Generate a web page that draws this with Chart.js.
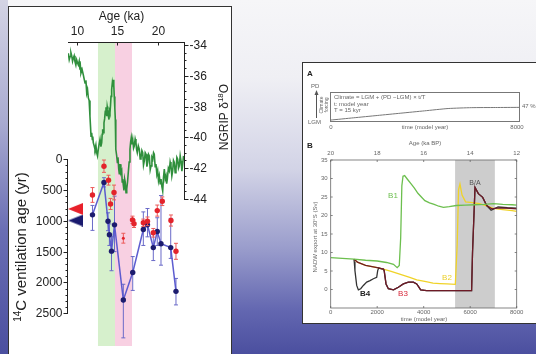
<!DOCTYPE html>
<html><head><meta charset="utf-8">
<script src="https://cdn.jsdelivr.net/npm/chart.js@4/dist/chart.umd.min.js"></script>
<style>
html,body{margin:0;padding:0;width:536px;height:354px;overflow:hidden;}
body{position:relative;background:linear-gradient(to bottom,#f6f6f8 0%,#efeff4 22%,#d2d3e6 48%,#9a9dcc 70%,#6266b0 88%,#4b4f9f 100%);}
#leftStrip{position:absolute;left:0;top:0;width:8px;height:354px;background:linear-gradient(to bottom,#d4d4e4 0%,#a8aad0 35%,#6a6eb4 65%,#4b4f9f 100%);}
#leftBox{position:absolute;left:8px;top:6px;width:224px;height:349px;background:#fff;border:1px solid #333;box-sizing:border-box;}
#rightBox{position:absolute;left:302px;top:62px;width:240px;height:262px;background:#fff;border:1px solid #333;box-sizing:border-box;}
canvas{position:absolute;left:0;top:0;width:536px;height:354px;}
</style></head>
<body>
<div id="leftStrip"></div><div id="leftBox"></div><div id="rightBox"></div>
<canvas id="cL" width="536" height="354"></canvas>
<canvas id="cA" width="536" height="354"></canvas>
<canvas id="cB" width="536" height="354"></canvas>
<script>
// ---------------- LEFT PANEL DATA ----------------
const ageTicks = [10, 15, 20];
const ventTicks = [0, 500, 1000, 1500, 2000, 2500];
const d18OTicks = [-34, -36, -38, -40, -42, -44];
const shadeGreen = [12.59, 14.69];   // ka
const shadePink = [14.69, 16.79];    // ka

const ngripAge = [8.93,9.04,9.14,9.25,9.35,9.45,9.54,9.65,9.75,9.86,9.96,10.06,10.16,10.27,10.37,10.43,10.49,10.63,10.78,10.88,10.99,11.10,11.20,11.30,11.40,11.50,11.60,11.67,11.73,11.81,11.89,11.95,12.01,12.12,12.22,12.33,12.43,12.53,12.63,12.74,12.84,12.95,13.05,13.11,13.17,13.25,13.33,13.41,13.49,13.58,13.67,13.73,13.79,13.87,13.95,14.01,14.07,14.14,14.20,14.28,14.36,14.42,14.48,14.54,14.60,14.67,14.73,14.77,14.81,14.90,14.98,15.06,15.15,15.23,15.31,15.42,15.52,15.58,15.64,15.72,15.80,15.88,15.96,16.05,16.14,16.24,16.33,16.44,16.54,16.62,16.70,16.79,16.88,16.98,17.07,17.18,17.28,17.36,17.44,17.57,17.69,17.80,17.90,18.01,18.11,18.21,18.31,18.42,18.52,18.63,18.73,18.83,18.93,19.04,19.14,19.25,19.35,19.45,19.54,19.65,19.75,19.86,19.96,20.06,20.16,20.27,20.37,20.48,20.58,20.68,20.78,20.89,20.99,21.07,21.15,21.28,21.40,21.50,21.60,21.71,21.81,21.91,22.01,22.12,22.22,22.33,22.43,22.53,22.63,22.74,22.84,22.95,23.05,23.15];
const ngripD18O = [-34.54,-34.95,-34.75,-34.50,-34.71,-35.05,-34.86,-34.70,-35.08,-35.30,-34.97,-35.15,-35.29,-35.05,-35.61,-35.45,-35.83,-35.60,-35.94,-36.20,-36.47,-36.30,-37.12,-36.90,-37.44,-37.60,-38.63,-39.30,-39.92,-39.70,-40.13,-39.95,-40.34,-40.55,-40.77,-40.50,-40.99,-41.20,-40.77,-40.40,-40.13,-40.60,-40.34,-39.80,-39.48,-39.70,-39.05,-38.80,-38.30,-38.05,-38.63,-38.00,-38.19,-38.60,-38.84,-38.30,-38.41,-37.90,-37.34,-36.90,-36.47,-36.70,-36.26,-36.60,-37.34,-38.10,-38.84,-39.80,-40.77,-41.20,-41.63,-41.30,-42.06,-42.40,-41.74,-42.30,-42.17,-42.90,-42.71,-43.10,-43.45,-42.70,-42.92,-43.60,-43.35,-42.90,-42.28,-41.60,-40.77,-40.30,-40.02,-40.45,-40.13,-40.70,-40.56,-40.10,-40.34,-40.80,-40.99,-40.55,-40.77,-41.40,-41.31,-40.85,-40.99,-41.80,-41.53,-41.00,-41.10,-41.90,-41.63,-41.10,-41.21,-42.10,-41.85,-41.30,-41.42,-41.00,-41.10,-41.90,-41.74,-42.40,-42.17,-42.80,-42.50,-43.00,-42.71,-43.20,-43.48,-42.60,-42.06,-42.70,-42.50,-43.00,-42.71,-42.00,-42.17,-41.60,-41.85,-42.50,-42.17,-41.50,-41.63,-42.30,-42.06,-41.30,-41.42,-42.00,-41.85,-41.20,-41.53,-42.20,-41.74,-41.20];

const blueAge = [11.91,13.33,13.83,14.00,14.26,14.63,15.72,16.88,18.19,18.70,19.42,19.91,20.37,21.57,22.22];
const blueVent = [903,376,1008,1226,1492,1065,2285,1839,1140,1065,1435,1173,1371,1435,2145];
const blueLo = [750,300,870,1050,1260,600,2030,1580,855,800,1210,950,590,960,1935];
const blueHi = [1155,450,1160,1400,1810,1500,2900,2130,1400,1260,1645,1400,1720,1610,2365];

const redAge = [11.91,13.33,13.89,14.14,14.57,15.72,16.85,17.04,18.19,18.70,19.42,19.91,20.53,21.60,22.22];
const redVent = [580,113,340,726,540,1282,984,1048,1032,1008,1194,834,682,995,1495];
const redErr = [120,100,80,90,120,80,60,60,60,70,70,90,70,90,130];

const pdAge = [9.815, 9.815];
const pdVent = [806, 995];

// ---------------- PANEL A DATA ----------------
const climT = [0,1000,2000,3000,4000,5000,6000,7000,8000];
const climFrac = [0.03,0.11,0.19,0.27,0.35,0.43,0.46,0.465,0.47];

// ---------------- PANEL B DATA ----------------
const bXTicks = [0,2000,4000,6000,8000];
const bYTicks = [0,5,10,15,20,25,30,35];
const bAgeTicks = [20,18,16,14,12];
const baShade = [5350, 7060];

const b1T = [0,500,1000,1500,2000,2400,2700,2860,2950,3010,3060,3110,3180,3300,3450,3600,3750,3900,4050,4250,4450,4650,4850,5100,5400,5800,6200,6600,7000,7400,7800,8000];
const b1V = [8.6,8.4,8.2,7.9,7.7,7.3,6.8,5.9,6.5,14,28,30.6,30.8,29.8,28.6,27.4,26.0,25.0,24.0,23.4,23.0,22.5,22.2,22.4,22.7,22.8,22.9,23.0,23.2,23.0,22.9,22.8];
const b2T = [1000,1150,1500,2000,2270,2600,3000,3400,3700,4100,4400,4700,5000,5360,5440,5500,5560,5650,5800,6100,6400,6700,7000,7400,7800,8000];
const b2V = [8.2,7.4,6.5,5.9,5.5,4.9,4.1,3.3,2.6,2.1,1.7,1.6,1.5,1.4,12,27,28.5,25.5,23.7,23.5,23.2,22.6,21.9,21.6,21.3,21.1];
const b3T = [1000,1150,1500,2000,2270,2300,2380,2480,2700,2910,3125,3340,3555,3700,3800,3870,4130,5000,6060,6100,6207,6350,6537,6710,6925,7140,7570,8000];
const b3V = [8.2,7.4,6.5,5.9,5.5,5.1,1.5,0.2,-0.1,0.6,1.5,2.0,2.0,1.5,0.6,-0.1,-0.3,-0.3,-0.3,10,27.6,25.9,24.9,22.7,21.8,22.0,22.0,21.8];
const b4T = [1000,1015,1043,1118,1190,1290,1405,1548,1692,1835,1978,2021,2064,2193,2270,2300,2380,2480,2700,2910,3125,3340,3555,3700,3800,3870,4130,5000,6060,6100,6207,6350,6537,6710,6900,7200,7600,8000];
const b4V = [8.2,7.4,5.1,1.1,-0.1,0.2,1.1,2.0,2.4,2.9,3.3,5.1,5.8,5.6,5.5,5.1,1.5,0.2,-0.1,0.6,1.5,2.0,2.0,1.5,0.6,-0.1,-0.3,-0.3,-0.3,10,27.6,25.9,24.9,22.7,21.4,22.3,22.1,22.0];

// ---------------- helpers ----------------
const FONT = '"Liberation Sans", Arial, sans-serif';
const pts = (xs, ys) => xs.map((v, i) => ({x: v, y: ys[i]}));
function line(ctx, x1, y1, x2, y2){ ctx.beginPath(); ctx.moveTo(x1, y1); ctx.lineTo(x2, y2); ctx.stroke(); }
const r5 = v => Math.round(v) + 0.5;
function triImg(color){
  const c = document.createElement('canvas'); c.width = 15; c.height = 12;
  const g = c.getContext('2d'); g.fillStyle = color;
  g.beginPath(); g.moveTo(0, 6); g.lineTo(15, 0); g.lineTo(15, 12); g.closePath(); g.fill();
  return c;
}
const base = {responsive:false, animation:false, events:[], plugins:{legend:{display:false}, tooltip:{enabled:false}}};

// ---------------- LEFT CHART ----------------
const leftPlugin = {
  id: 'leftDeco',
  beforeDatasetsDraw(chart){
    const {ctx, chartArea: ca, scales: {x}} = chart;
    ctx.save();
    ctx.fillStyle = '#d6f0cc';
    ctx.fillRect(x.getPixelForValue(shadeGreen[0]), ca.top, x.getPixelForValue(shadeGreen[1]) - x.getPixelForValue(shadeGreen[0]), ca.bottom - ca.top);
    ctx.fillStyle = '#f8d0e2';
    ctx.fillRect(x.getPixelForValue(shadePink[0]), ca.top, x.getPixelForValue(shadePink[1]) - x.getPixelForValue(shadePink[0]), ca.bottom - ca.top);
    ctx.restore();
  },
  beforeDatasetDraw(chart, args){
    const ds = chart.data.datasets[args.index];
    if (!ds.errLo) return;
    const {ctx, scales: {x, yv}} = chart;
    ctx.save(); ctx.strokeStyle = ds.errColor; ctx.lineWidth = 1;
    ds.data.forEach((p, i) => {
      const px = x.getPixelForValue(p.x), y1 = yv.getPixelForValue(ds.errLo[i]), y2 = yv.getPixelForValue(ds.errHi[i]);
      line(ctx, px, y1, px, y2); line(ctx, px - 2, y1, px + 2, y1); line(ctx, px - 2, y2, px + 2, y2);
    });
    ctx.restore();
  },
  afterDatasetsDraw(chart){
    const {ctx, chartArea: ca, scales: {x, yv, yd}} = chart;
    ctx.save();
    ctx.strokeStyle = '#222'; ctx.fillStyle = '#222'; ctx.lineWidth = 1;
    // top axis
    const ty = r5(ca.top);
    line(ctx, ca.left, ty, ca.right + 0.5, ty);
    ctx.font = '12px ' + FONT; ctx.textAlign = 'center'; ctx.textBaseline = 'middle';
    ageTicks.forEach(a => { const px = r5(x.getPixelForValue(a)); line(ctx, px, ty, px, ty + 3); ctx.fillText(String(a), px, 32); });
    ctx.fillText('Age (ka)', 121.5, 17);
    // right axis (d18O)
    const rx = r5(ca.right);
    line(ctx, rx, ca.top, rx, r5(yd.getPixelForValue(-44)) + 0.5);
    for (let v = -34; v >= -44.001; v -= 0.5) { const py = r5(yd.getPixelForValue(v)); line(ctx, rx, py, rx + 2, py); }
    ctx.textAlign = 'left';
    d18OTicks.forEach(v => { const py = r5(yd.getPixelForValue(v)); line(ctx, rx, py, rx + 4, py); ctx.fillText(String(v), rx + 5, py); });
    // left axis (ventilation)
    const lx = r5(ca.left - 1);
    line(ctx, lx, r5(yv.getPixelForValue(0)) - 0.5, lx, r5(yv.getPixelForValue(2500)) + 0.5);
    for (let v = 0; v <= 2500; v += 100) { const py = r5(yv.getPixelForValue(v)); line(ctx, lx - 2, py, lx, py); }
    ctx.textAlign = 'right';
    ventTicks.forEach(v => { const py = r5(yv.getPixelForValue(v)); line(ctx, lx - 4, py, lx, py); ctx.fillText(String(v), lx - 5, py); });
    // left title
    ctx.save(); ctx.translate(22, 247); ctx.rotate(-Math.PI / 2);
    ctx.textAlign = 'left'; ctx.textBaseline = 'middle';
    ctx.font = '10px ' + FONT; const w1 = ctx.measureText('14').width;
    ctx.font = '15px ' + FONT; const w2 = ctx.measureText('C ventilation age (yr)').width;
    let sx = -(w1 + w2) / 2;
    ctx.font = '10px ' + FONT; ctx.fillText('14', sx, -4);
    ctx.font = '15px ' + FONT; ctx.fillText('C ventilation age (yr)', sx + w1, 0);
    ctx.restore();
    // right title
    ctx.save(); ctx.translate(225, 117); ctx.rotate(-Math.PI / 2);
    ctx.textAlign = 'left'; ctx.textBaseline = 'middle';
    ctx.font = '12px ' + FONT; const a1 = ctx.measureText('NGRIP \u03b4').width, a3 = ctx.measureText('O').width;
    ctx.font = '8px ' + FONT; const a2 = ctx.measureText('18').width;
    sx = -(a1 + a2 + a3) / 2;
    ctx.font = '12px ' + FONT; ctx.fillText('NGRIP \u03b4', sx, 0);
    ctx.font = '8px ' + FONT; ctx.fillText('18', sx + a1, -4);
    ctx.font = '12px ' + FONT; ctx.fillText('O', sx + a1 + a2, 0);
    ctx.restore();
    ctx.restore();
  }
};

new Chart(document.getElementById('cL'), {
  type: 'scatter',
  data: {datasets: [
    {label: 'PD', data: pts(pdAge, pdVent), yAxisID: 'yv', pointStyle: [triImg('#e8202a'), triImg('#1a1a6e')], pointRadius: 7},
    {label: 'red', data: pts(redAge, redVent), yAxisID: 'yv', showLine: false,
     pointRadius: redAge.map((a, i) => i === 5 ? 1.5 : 2.7), pointBackgroundColor: '#e3232b', pointBorderColor: '#e3232b', pointBorderWidth: 0,
     errLo: redVent.map((v, i) => v - redErr[i]), errHi: redVent.map((v, i) => v + redErr[i]), errColor: '#ec5a5a'},
    {label: 'blue', type: 'line', data: pts(blueAge, blueVent), yAxisID: 'yv', borderColor: 'rgba(84,84,205,0.95)', borderWidth: 1.5,
     pointRadius: 2.7, pointBackgroundColor: '#1c1c6e', pointBorderColor: '#1c1c6e', pointBorderWidth: 0, tension: 0,
     errLo: blueLo, errHi: blueHi, errColor: '#6a6ac8'},
    {label: 'NGRIP', type: 'line', data: pts(ngripAge, ngripD18O), yAxisID: 'yd', borderColor: '#2f8f3c', borderWidth: 1.6, pointRadius: 0, tension: 0}
  ]},
  options: Object.assign({}, base, {
    layout: {padding: {left: 68, top: 42, right: 352, bottom: 6}},
    scales: {
      x: {type: 'linear', min: 8.889, max: 23.21, display: false},
      yv: {type: 'linear', reverse: true, min: -1903, max: 3032, display: false},
      yd: {type: 'linear', min: -53.548, max: -33.806, display: false}
    }
  }),
  plugins: [leftPlugin]
});

// ---------------- PANEL A ----------------
const aPlugin = {
  id: 'aDeco',
  afterDatasetsDraw(chart){
    const {ctx, chartArea: ca} = chart;
    ctx.save();
    ctx.strokeStyle = '#777'; ctx.lineWidth = 1;
    ctx.strokeRect(r5(ca.left), r5(ca.top), Math.round(ca.right - ca.left), Math.round(ca.bottom - ca.top));
    ctx.fillStyle = '#222'; ctx.font = 'bold 8px ' + FONT; ctx.textBaseline = 'middle'; ctx.textAlign = 'left';
    ctx.fillText('A', 307, 74);
    ctx.fillStyle = '#666'; ctx.font = '6px ' + FONT;
    ctx.fillText('PD', 311, 86);
    ctx.fillText('LGM', 308, 122);
    ctx.fillText('Climate = LGM + (PD \u2212LGM) \u00d7 t/T', 334, 97.5);
    ctx.fillText('t: model year', 334, 104);
    ctx.fillText('T = 15 kyr', 334, 110.5);
    ctx.fillText('47 %', 522, 106);
    ctx.textAlign = 'center';
    ctx.fillText('0', 331, 127);
    ctx.fillText('8000', 517, 127);
    ctx.fillText('time (model year)', 425, 127);
    // arrow
    ctx.strokeStyle = '#555'; line(ctx, 316.5, 92, 316.5, 118);
    ctx.fillStyle = '#555'; ctx.beginPath(); ctx.moveTo(316.5, 90); ctx.lineTo(314.5, 95); ctx.lineTo(318.5, 95); ctx.closePath(); ctx.fill();
    ctx.save(); ctx.translate(324, 105); ctx.rotate(-Math.PI / 2); ctx.fillStyle = '#666'; ctx.font = '5px ' + FONT; ctx.textAlign = 'center';
    ctx.fillText('Climate', 0, -2); ctx.fillText('forcing', 0, 3); ctx.restore();
    ctx.restore();
  }
};
new Chart(document.getElementById('cA'), {
  type: 'scatter',
  data: {datasets: [{data: pts(climT, climFrac), showLine: true, borderColor: '#777', borderWidth: 1, pointRadius: 0, tension: 0.2}]},
  options: Object.assign({}, base, {
    layout: {padding: {left: 330, top: 92, right: 17, bottom: 233}},
    scales: {x: {type: 'linear', min: 0, max: 8000, display: false}, y: {type: 'linear', min: 0, max: 1, display: false}}
  }),
  plugins: [aPlugin]
});

// ---------------- PANEL B ----------------
const bPlugin = {
  id: 'bDeco',
  beforeDatasetsDraw(chart){
    const {ctx, chartArea: ca, scales: {x}} = chart;
    ctx.save(); ctx.fillStyle = '#cdcdcd';
    const x1 = x.getPixelForValue(baShade[0]), x2 = x.getPixelForValue(baShade[1]);
    ctx.fillRect(x1, ca.top, x2 - x1, ca.bottom - ca.top);
    ctx.restore();
  },
  afterDatasetsDraw(chart){
    const {ctx, chartArea: ca, scales: {x, y}} = chart;
    ctx.save();
    ctx.strokeStyle = '#666'; ctx.lineWidth = 0.8;
    ctx.strokeRect(ca.left, ca.top, ca.right - ca.left, ca.bottom - ca.top);
    ctx.fillStyle = '#666'; ctx.font = '6px ' + FONT; ctx.textBaseline = 'middle';
    ctx.textAlign = 'right';
    bYTicks.forEach(v => { const py = y.getPixelForValue(v); line(ctx, ca.left, py, ca.left + 2, py); line(ctx, ca.right - 2, py, ca.right, py); ctx.fillText(String(v), ca.left - 3, py); });
    ctx.textAlign = 'center';
    bXTicks.forEach(v => { const px = x.getPixelForValue(v); line(ctx, px, ca.bottom, px, ca.bottom - 2); ctx.fillText(String(v), px, 312); });
    bAgeTicks.forEach(a => { const px = x.getPixelForValue((20 - a) * 1000); line(ctx, px, ca.top, px, ca.top + 2); ctx.fillText(String(a), px, 153.5); });
    ctx.fillText('time (model year)', 424, 319.5);
    ctx.fillText('Age (ka BP)', 425, 143);
    ctx.save(); ctx.translate(315, 237); ctx.rotate(-Math.PI / 2); ctx.fillText('NADW export at 30\u00b0S (Sv)', 0, 0); ctx.restore();
    ctx.fillStyle = '#555'; ctx.font = '7px ' + FONT; ctx.fillText('B/A', 475, 183.5);
    ctx.fillStyle = '#222'; ctx.font = 'bold 8px ' + FONT; ctx.textAlign = 'left'; ctx.fillText('B', 307, 146);
    ctx.textAlign = 'center'; ctx.font = '8px ' + FONT;
    ctx.fillStyle = '#6cbf4e'; ctx.fillText('B1', 393, 196);
    ctx.fillStyle = '#ecd02c'; ctx.fillText('B2', 447, 278);
    ctx.fillStyle = '#d8283a'; ctx.fillText('B3', 403, 294);
    ctx.fillStyle = '#222'; ctx.font = 'bold 8px ' + FONT; ctx.fillText('B4', 365, 294);
    ctx.restore();
  }
};
new Chart(document.getElementById('cB'), {
  type: 'scatter',
  data: {datasets: [
    {label: 'B1', data: pts(b1T, b1V), showLine: true, borderColor: '#6cbf4e', borderWidth: 1.3, pointRadius: 0},
    {label: 'B3', data: pts(b3T, b3V), showLine: true, borderColor: '#6e1a26', borderWidth: 1.3, pointRadius: 0},
    {label: 'B4', data: pts(b4T, b4V), showLine: true, borderColor: '#333333', borderWidth: 1.3, pointRadius: 0},
    {label: 'B2', data: pts(b2T, b2V), showLine: true, borderColor: '#f0d328', borderWidth: 1.3, pointRadius: 0}
  ]},
  options: Object.assign({}, base, {
    layout: {padding: {left: 330.7, top: 160, right: 19.3, bottom: 46}},
    scales: {x: {type: 'linear', min: 0, max: 8000, display: false}, y: {type: 'linear', min: -5, max: 35, display: false}}
  }),
  plugins: [bPlugin]
});
</script>
</body></html>
